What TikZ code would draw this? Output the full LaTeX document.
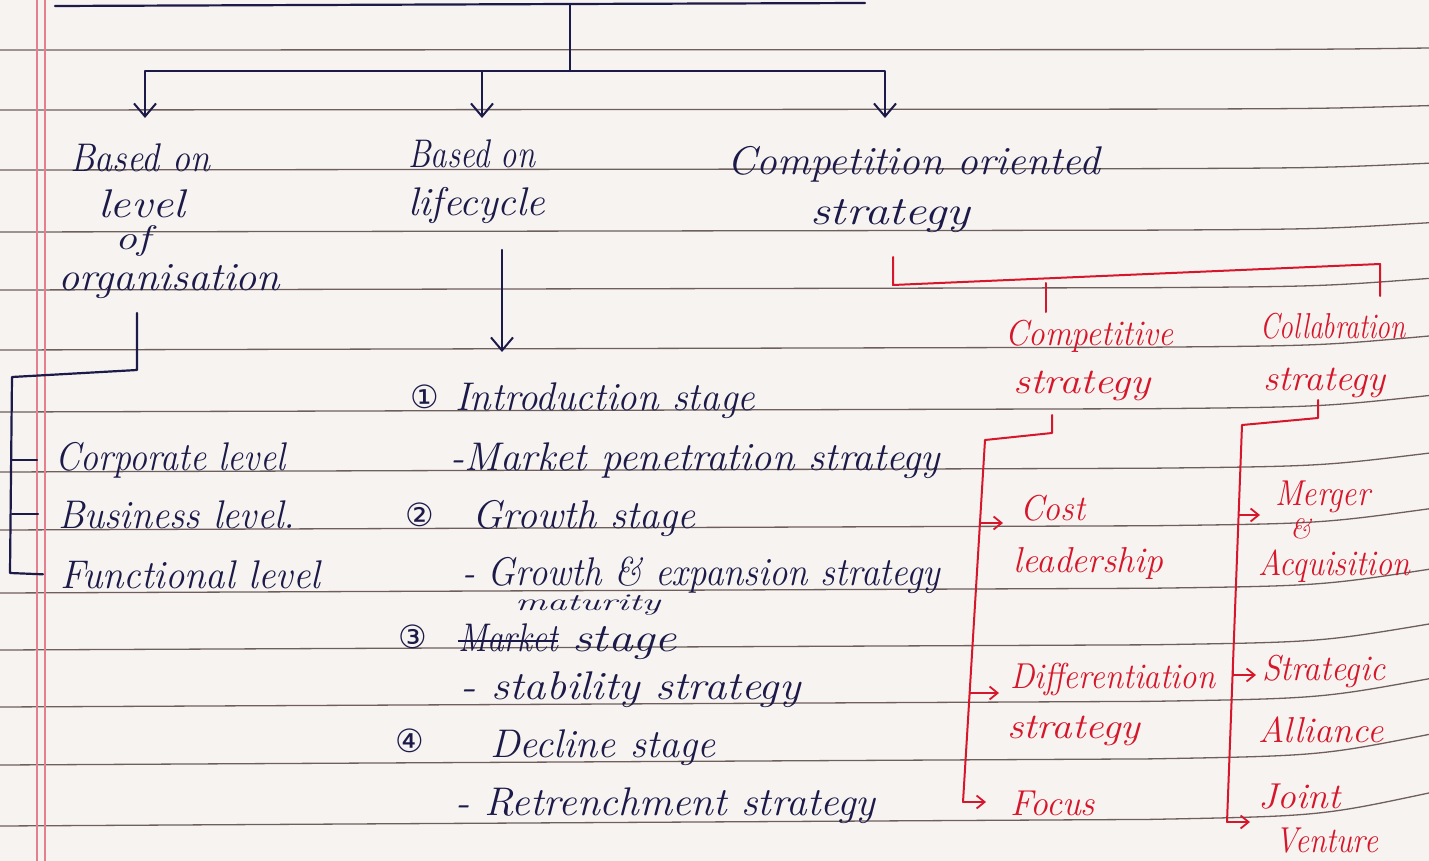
\documentclass[tikz,border=0pt]{standalone}
\usepackage{fontspec}
\usepackage{graphicx}
\newfontfamily\symf{DejaVu Sans}
\usetikzlibrary{arrows.meta}
\definecolor{paper}{RGB}{247,243,240}
\definecolor{rulecol}{RGB}{110,95,92}
\definecolor{margincol}{RGB}{228,128,142}
\definecolor{inkblue}{RGB}{28,26,72}
\definecolor{inkred}{RGB}{214,22,42}
% stretch or squeeze a handwritten line to a given width (in pt), keeping its height
\newcommand\fw[2]{\resizebox{#1pt}{\height}{#2}}
\newcommand\circnum[1]{{\symf\fontsize{32}{36}\selectfont #1}}
\tikzset{
  bline/.style={draw=inkblue, line width=2.2pt, line cap=round, line join=round},
  barrow/.style={bline, -{Straight Barb[length=13pt,width=22pt,line width=2pt]}},
  rline/.style={draw=inkred, line width=2pt, line cap=round, line join=round},
  rarrow/.style={rline, -{Straight Barb[length=8pt,width=13pt,line width=1.8pt]}},
  btxt/.style={text=inkblue, inner sep=0pt, anchor=base west, font=\fontsize{40}{44}\selectfont\itshape},
  rtxt/.style={text=inkred, inner sep=0pt, anchor=base west, font=\fontsize{36}{40}\selectfont\itshape},
}
\begin{document}
\begin{tikzpicture}[x=1pt,y=-1pt]
% paper
\fill[paper] (0,0) rectangle (1429,861);
\useasboundingbox (0,0) rectangle (1429,861);
% ruled lines, rising a little towards the curled right edge
\foreach \ry in {50,110,170,232,290,350,412,472,530,593,650,707,765,826}
  \draw[rulecol, line width=1.3pt]
    (0,\ry) -- (1150,{\ry-0.008*\ry}) .. controls (1320,{\ry-0.012*\ry}) .. (1429,{\ry-0.04*\ry});
% margin
\draw[margincol, line width=1.1pt] (37,0) -- (37,861);
\draw[margincol, line width=1.1pt] (45,0) -- (45,861);

% heading rule and main split
\coordinate (hub) at (570,4);
\coordinate (split) at (570,71);
\coordinate (t1) at (145,118);
\coordinate (t2) at (482,118);
\coordinate (t3) at (885,118);
\draw[bline] (55,6) -- (hub) -- (865,3);
\draw[bline] (hub) -- (split);
\draw[barrow] (split) -| (t1);
\draw[barrow] (split) -| (t2);
\draw[barrow] (split) -| (t3);

% level of organisation
\node[btxt] (b1) at (70,172) {\fw{140}{Based on}};
\node[btxt] (b2) at (98,218) {\fw{87}{level}};
\node[btxt, font=\fontsize{34}{38}\selectfont\itshape] (b3) at (115,250) {\fw{35}{of}};
\node[btxt] (org) at (58,290) {\fw{222}{organisation}};
\node[btxt] (lv1) at (55,470) {\fw{230}{Corporate level}};
\node[btxt] (lv2) at (58,528) {\fw{237}{Business level.}};
\node[btxt] (lv3) at (60,588) {\fw{260}{Functional level}};
\coordinate (ob) at (137,313);
\coordinate (oc) at (137,370);
\coordinate (lt) at (12,377);
\coordinate (lb) at (10,573);
\draw[bline] (ob) -- (oc) -- (lt) -- (lb) -- ([xshift=-17pt]lv3.west);
\draw[bline] (lv1.west -| lt) -- ([xshift=-18pt]lv1.west);
\draw[bline] (lv2.west -| lt) -- ([xshift=-20pt]lv2.west);

% lifecycle
\node[btxt] (c1) at (408,168) {\fw{127}{Based on}};
\node[btxt] (lc) at (408,215) {\fw{137}{lifecycle}};
\coordinate (ltop) at (502,250);
\coordinate (ltip) at (502,352);
\draw[barrow] (ltop) -- (ltip);
\node[btxt] (n1) at (410,408) {\circnum{①}};
\node[btxt] (s1) at (455,410) {\fw{300}{Introduction stage}};
\node[btxt] (s1b) at (450,470) {\fw{490}{-Market penetration strategy}};
\node[btxt] (n2) at (405,526) {\circnum{②}};
\node[btxt] (s2) at (472,528) {\fw{223}{Growth stage}};
\node[btxt] (s2b) at (462,585) {\fw{478}{- Growth \& expansion strategy}};
\node[btxt, font=\fontsize{24}{28}\selectfont\itshape] (mat) at (515,610) {\fw{145}{maturity}};
\node[btxt] (n3) at (398,648) {\circnum{③}};
\node[btxt] (mk) at (458,651) {\fw{100}{Market}};
\node[btxt] (s3) at (572,651) {\fw{105}{stage}};
\draw[inkblue, line width=1.8pt] ([yshift=10pt]mk.base west) -- ([yshift=10pt]mk.base east);
\node[btxt] (s3b) at (460,699) {\fw{340}{- stability strategy}};
\node[btxt] (n4) at (395,752) {\circnum{④}};
\node[btxt] (s4) at (490,757) {\fw{225}{Decline stage}};
\node[btxt] (s4b) at (455,815) {\fw{420}{- Retrenchment strategy}};

% competition oriented strategy
\node[btxt] (co) at (727,175) {\fw{373}{Competition oriented}};
\node[btxt] (co2) at (810,225) {\fw{160}{strategy}};
\coordinate (r1) at (893,257);
\coordinate (r2) at (893,285);
\coordinate (r3) at (1380,264);
\coordinate (r4) at (1380,296);
\coordinate (rm) at (1046,283);
\coordinate (rd) at (1046,312);
\draw[rline] (r1) -- (r2) -- (r3) -- (r4);
\draw[rline] (rm) -- (rd);

\node[rtxt] (cp) at (1005,345) {\fw{168}{Competitive}};
\node[rtxt] (cp2) at (1013,393) {\fw{137}{strategy}};
\node[rtxt] (cl) at (1260,338) {\fw{145}{Collabration}};
\node[rtxt] (cl2) at (1263,390) {\fw{122}{strategy}};

\node[rtxt] (cost) at (1020,520) {\fw{65}{Cost}};
\node[rtxt] (cost2) at (1013,572) {\fw{150}{leadership}};
\node[rtxt] (dif) at (1010,688) {\fw{205}{Differentiation}};
\node[rtxt] (dif2) at (1007,738) {\fw{133}{strategy}};
\node[rtxt] (foc) at (1010,815) {\fw{85}{Focus}};

\node[rtxt] (mer) at (1275,505) {\fw{95}{Merger}};
\node[rtxt, font=\fontsize{28}{32}\selectfont\itshape] (amp) at (1290,538) {\&};
\node[rtxt] (acq) at (1258,575) {\fw{152}{Acquisition}};
\node[rtxt] (sa) at (1262,680) {\fw{123}{Strategic}};
\node[rtxt] (sa2) at (1258,742) {\fw{125}{Alliance}};
\node[rtxt] (jv) at (1258,808) {\fw{82}{Joint}};
\node[rtxt] (jv2) at (1275,852) {\fw{103}{Venture}};

% competitive branch
\coordinate (k1) at (1052,415);
\coordinate (k2) at (1052,433);
\coordinate (k3) at (985,440);
\coordinate (k4) at (963,802);
\coordinate (ka) at (980,523);
\coordinate (kb) at (970,693);
\draw[rline] (k1) -- (k2) -- (k3) -- (k4);
\draw[rarrow] (k4) -- (986,802);
\draw[rarrow] (ka) -- (1003,523);
\draw[rarrow] (kb) -- (999,693);

% collaboration branch
\coordinate (m1) at (1318,400);
\coordinate (m2) at (1318,418);
\coordinate (m3) at (1242,425);
\coordinate (m4) at (1227,822);
\coordinate (ma) at (1239,515);
\coordinate (mb) at (1233,660);
\draw[rline] (m1) -- (m2) -- (m3) -- (m4);
\draw[rarrow] (m4) -- (1250,822);
\draw[rarrow] (ma) -- (1260,515);
\draw[rarrow] (mb) |- (1256,675);
\end{tikzpicture}
\end{document}
